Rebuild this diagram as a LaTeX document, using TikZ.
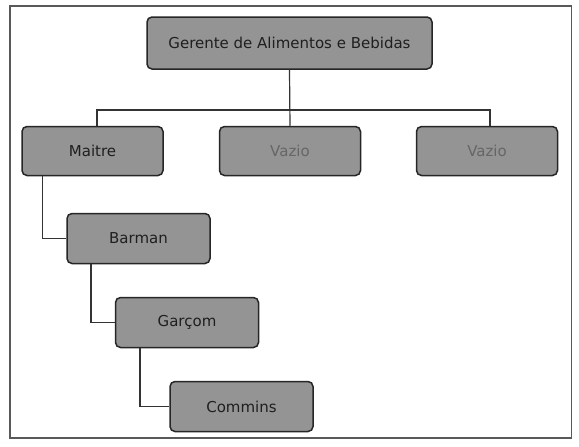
\documentclass[tikz,border=0pt]{standalone}
\usepackage{fontspec}
\setmainfont{DejaVu Sans}
\begin{document}
\begin{tikzpicture}[x=1pt,y=-1pt,
  box/.style={draw=black!85, line width=1.5pt, fill=black!42, rounded corners=5pt, inner sep=0pt, font=\fontsize{15}{17}\selectfont, text=black!88},
  empty/.style={text=black!60},
  link/.style={draw=black!80, line width=1.2pt}]
\useasboundingbox (0,0) rectangle (579,447);
\fill[white] (0,0) rectangle (579,447);
\draw[black!65, line width=1.2pt] (10,6) rectangle (571.5,438);
\node[box, minimum width=285pt, minimum height=52pt] (g) at (289.5,43) {Gerente de Alimentos e Bebidas};
\node[box, minimum width=141pt, minimum height=49pt] (m) at (92.5,151) {Maitre};
\node[box, empty, minimum width=141pt, minimum height=49pt] (v1) at (290,151) {Vazio};
\node[box, empty, minimum width=141pt, minimum height=49pt] (v2) at (487,151) {Vazio};
\node[box, minimum width=143pt, minimum height=50pt] (b) at (138.5,238.5) {Barman};
\node[box, minimum width=143pt, minimum height=50pt] (c) at (187,322.5) {Garçom};
\node[box, minimum width=143pt, minimum height=50pt] (k) at (241.5,406.5) {Commins};
\coordinate (hl) at (97,110);
\coordinate (hr) at (490,110);
\draw[link] (g.south) -- (v1.north);
\draw[link] (m.north -| hl) -- (hl) -- (hr) -- (v2.north -| hr);
\draw[link] (m.south -| 42.5,0) -- (b.west -| 42.5,0) -- (b.west);
\draw[link] (b.south -| 91,0) -- (c.west -| 91,0) -- (c.west);
\draw[link] (c.south -| 140,0) -- (k.west -| 140,0) -- (k.west);
\end{tikzpicture}
\end{document}
